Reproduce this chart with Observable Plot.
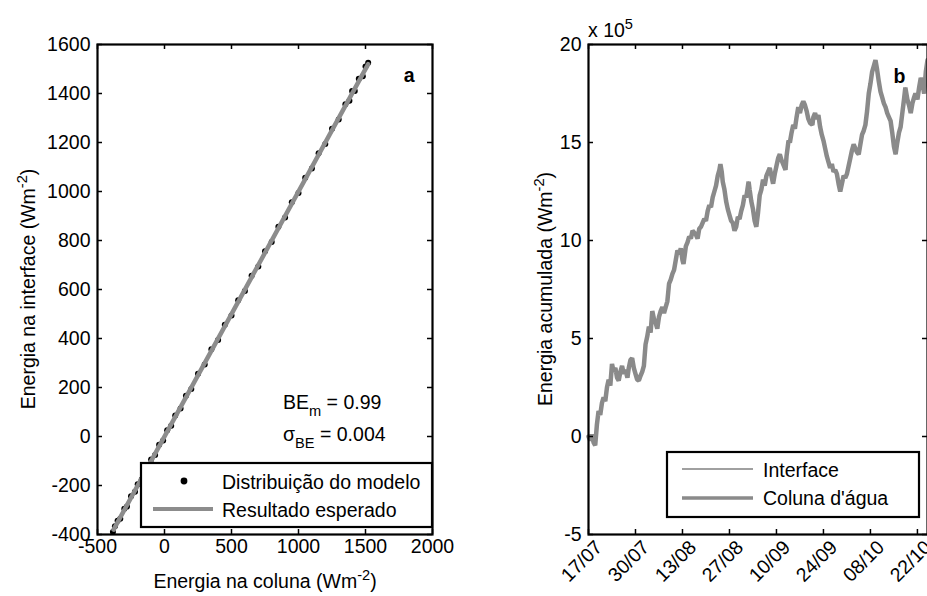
<!DOCTYPE html>
<html><head><meta charset="utf-8">
<script src="https://cdn.jsdelivr.net/npm/d3@7"></script>
<script src="https://cdn.jsdelivr.net/npm/@observablehq/plot@0.6"></script>
<style>
html,body{margin:0;padding:0;background:#fff;overflow:hidden;}
#wrap{position:relative;width:927px;height:596px;overflow:hidden;background:#fff;}
#wrap svg{position:absolute;top:0;}
</style></head><body><div id="wrap"></div>
<script>
const FONT = "'Liberation Sans', Arial, Helvetica, sans-serif";
const FS = 19.5;

// ---------- Panel a data ----------
const ticksXa = [-500, 0, 500, 1000, 1500, 2000];
const ticksYa = [-400, -200, 0, 200, 400, 600, 800, 1000, 1200, 1400, 1600];
const modeloX = [-385,-370,-350,-330,-300,-280,-250,-220,-200,-170,-150,-120,-100,-70,-40,-10,20,50,80,120,160,200,250,300,350,400,450,500,550,600,650,700,750,800,850,900,950,1000,1050,1100,1150,1200,1250,1300,1350,1380,1400,1420,1450,1480,1500,1520];
const modeloY = [-390,-366,-344,-336,-295,-286,-244,-226,-195,-176,-144,-126,-94,-76,-34,-16,26,44,86,114,166,194,256,294,356,394,456,494,556,594,656,694,756,794,856,894,956,994,1056,1094,1156,1194,1256,1294,1356,1370,1410,1410,1460,1470,1510,1526];
const esperadoX = [-380, 1520];
const esperadoY = [-380, 1520];

// ---------- Panel b data ----------
const tickDays = [0, 14, 28, 42, 56, 70, 84, 98];
const tickLabels = ["17/07","30/07","13/08","27/08","10/09","24/09","08/10","22/10"];
const ticksYb = [-5, 0, 5, 10, 15, 20];
const dias = [0,0.5,1,1.5,2,2.5,3,3.5,4,4.5,5,5.5,6,6.5,7,7.5,8,8.5,9,9.5,10,10.5,11,11.6,12,12.5,13,13.5,14,14.5,15,15.5,16,16.5,17,17.5,18,18.5,19,19.5,20,20.5,21,21.5,22,22.5,23,23.5,24,24.5,25,25.5,26,26.5,27,27.5,28,28.3,28.7,29,29.5,30,30.5,31,31.5,32,32.5,33,33.5,34,34.5,35,35.5,36,36.5,37,37.5,38,38.5,39,39.3,39.7,40,40.5,41,41.5,42,42.5,43,43.5,44,44.5,45,45.5,46,46.5,47,47.7,48,48.5,49,49.5,50,50.5,51,51.5,52,52.5,53,53.5,54,54.5,55,55.5,56,56.5,57,57.5,58,58.7,59,59.6,60,60.5,61,61.5,62,62.5,63,63.5,64,64.5,65,65.5,66,66.7,67,67.5,68,68.5,69,69.5,70,70.5,71,71.5,72,72.5,73,73.5,74,74.5,75,75.5,76,76.5,77,77.5,78,78.5,79,79.5,80,80.5,81,81.5,82,82.5,83,83.5,84,84.5,85,85.5,86,86.5,87,87.5,88,88.5,89,89.5,90,90.5,91,91.5,92,92.5,93,93.5,94,94.4,95,95.5,96,96.5,97,97.4,98,98.5,99,99.5,100,100.5,101];
const colunaAgua = [0.0,-0.2,0.1,-0.3,-0.45,0.6,1.3,1.1,1.7,2.0,1.8,2.5,2.9,2.6,3.7,3.3,3.5,3.0,2.85,3.3,3.6,3.2,3.4,3.0,3.5,3.9,4.0,3.5,3.2,2.9,2.85,3.1,3.3,3.6,4.7,5.1,5.6,5.3,6.4,6.0,5.8,5.5,6.1,6.4,6.6,6.3,6.6,6.9,7.8,8.0,8.3,8.5,9.0,9.5,9.3,9.6,9.0,8.8,9.3,9.7,9.9,10.2,10.1,10.5,10.4,10.3,10.1,10.6,10.7,10.9,11.1,11.0,11.5,11.8,11.7,12.2,12.5,12.8,13.3,13.6,13.9,13.5,13.0,12.6,12.0,11.6,11.3,11.0,10.9,10.5,10.7,11.2,11.1,11.5,11.8,12.3,12.2,13.0,12.6,12.0,11.6,11.0,10.7,11.4,12.3,12.6,13.1,12.8,13.3,13.5,13.7,13.3,12.9,13.4,13.8,14.2,14.4,14.1,13.9,13.6,14.3,15.1,15.0,15.5,15.9,15.7,16.3,16.8,16.5,16.9,17.1,16.9,16.6,16.2,16.0,15.9,16.3,16.5,16.2,16.4,15.8,15.4,15.1,14.7,14.3,14.0,13.7,13.9,13.5,13.6,13.4,12.9,12.5,12.9,13.3,13.2,13.4,13.8,14.2,14.6,14.9,14.7,14.5,14.4,14.9,15.4,15.6,15.9,16.6,17.5,18.0,18.6,18.9,19.2,18.7,18.1,17.6,17.3,17.0,16.8,16.5,16.3,16.1,15.5,14.8,14.4,15.0,15.5,15.8,16.5,17.2,17.8,17.2,16.9,16.5,17.0,17.3,17.5,17.2,17.8,18.3,18.0,17.5,18.6,19.2];
const interfaceVals = colunaAgua.slice(); // the two series coincide at this scale

const modelo = modeloX.map((x, i) => ({x, y: modeloY[i]}));
const esperado = esperadoX.map((x, i) => ({x, y: esperadoY[i]}));
const serieColuna = dias.map((d, i) => ({d, v: colunaAgua[i]}));
const serieInterface = dias.map((d, i) => ({d, v: interfaceVals[i]}));

const H = 596, MT = 44, MB = 62;
const wrap = document.getElementById("wrap");

// ---------- Panel a ----------
const WA = 470, MLA = 97, MRA = 38;
const fwA = WA - MLA - MRA, fh = H - MT - MB;
const plotA = Plot.plot({
  width: WA, height: H, marginLeft: MLA, marginRight: MRA, marginTop: MT, marginBottom: MB,
  x: {domain: [-500, 2000], axis: null},
  y: {domain: [-400, 1600], axis: null},
  style: {fontFamily: FONT, background: "transparent", overflow: "visible"},
  marks: [
    Plot.dot(modelo, {x: "x", y: "y", r: 3, fill: "black", stroke: "none"}),
    Plot.line(esperado, {x: "x", y: "y", stroke: "#8c8c8c", strokeWidth: 4.5, strokeLinecap: "round"}),
    Plot.ruleX(ticksXa, {x: d => d, insetTop: fh - 5, stroke: "black", strokeWidth: 1.5}),
    Plot.ruleX(ticksXa, {x: d => d, insetBottom: fh - 5, stroke: "black", strokeWidth: 1.5}),
    Plot.ruleY(ticksYa, {y: d => d, insetRight: fwA - 5, stroke: "black", strokeWidth: 1.5}),
    Plot.ruleY(ticksYa, {y: d => d, insetLeft: fwA - 5, stroke: "black", strokeWidth: 1.5}),
    Plot.text(ticksXa, {x: d => d, frameAnchor: "bottom", dy: 18, text: d => String(d), fontSize: FS, fill: "black"}),
    Plot.text(ticksYa, {y: d => d, frameAnchor: "left", dx: -7, textAnchor: "end", text: d => String(d), fontSize: FS, fill: "black"}),
    Plot.frame({stroke: "black", strokeWidth: 2.2}),
    Plot.text(["a"], {frameAnchor: "top-right", dx: -18, dy: 24, text: d => d, fontWeight: "bold", fontSize: FS, fill: "black"})
  ]
});
plotA.style.left = "0px";
wrap.appendChild(plotA);

// ---------- Panel b ----------
const XB = 470, WB = 470, MLB = 118, MRB = WB - (927 - XB);
const fwB = WB - MLB - MRB;
const plotB = Plot.plot({
  width: WB, height: H, marginLeft: MLB, marginRight: MRB, marginTop: MT, marginBottom: MB,
  x: {domain: [0, 101], axis: null},
  y: {domain: [-5, 20], axis: null},
  style: {fontFamily: FONT, background: "transparent", overflow: "visible"},
  marks: [
    Plot.line(serieInterface, {x: "d", y: "v", stroke: "#777", strokeWidth: 1}),
    Plot.line(serieColuna, {x: "d", y: "v", stroke: "#8a8a8a", strokeWidth: 4.5, strokeLinejoin: "miter"}),
    Plot.ruleX(tickDays, {x: d => d, insetTop: fh - 5, stroke: "black", strokeWidth: 1.5}),
    Plot.ruleX(tickDays, {x: d => d, insetBottom: fh - 5, stroke: "black", strokeWidth: 1.5}),
    Plot.ruleY(ticksYb, {y: d => d, insetRight: fwB - 5, stroke: "black", strokeWidth: 1.5}),
    Plot.ruleY(ticksYb, {y: d => d, insetLeft: fwB - 5, stroke: "black", strokeWidth: 1.5}),
    Plot.text(tickDays, {x: d => d, frameAnchor: "bottom", dx: 15, dy: 14, rotate: -45, textAnchor: "end", text: (d, i) => tickLabels[i], fontSize: FS, fill: "black"}),
    Plot.text(ticksYb, {y: d => d, frameAnchor: "left", dx: -7, textAnchor: "end", text: d => String(d), fontSize: FS, fill: "black"}),
    Plot.frame({stroke: "black", strokeWidth: 2.2}),
    Plot.text(["b"], {frameAnchor: "top-right", dx: -22, dy: 25, text: d => d, fontWeight: "bold", fontSize: FS, fill: "black"})
  ]
});
plotB.style.left = XB + "px";
wrap.appendChild(plotB);

// ---------- rich text helper (super/subscripts) ----------
function rich(svg, {x, y, rotate = 0, anchor = "start", size = FS}, segs) {
  const t = d3.select(svg).append("text")
    .attr("transform", `translate(${x},${y}) rotate(${rotate})`)
    .attr("text-anchor", anchor).attr("font-size", size)
    .attr("font-family", FONT).attr("fill", "black");
  let cur = 0;
  for (const [s, shift] of segs) {
    const off = shift === -1 ? -8.5 : shift === 1 ? 7 : 0;
    t.append("tspan").attr("dy", off - cur).attr("font-size", shift ? size * 0.75 : size).text(s);
    cur = off;
  }
  return t;
}
function legendBox(svg, x, y, w, h) {
  d3.select(svg).append("rect").attr("x", x).attr("y", y).attr("width", w).attr("height", h)
    .attr("fill", "white").attr("stroke", "black").attr("stroke-width", 2.2);
}

// Panel a texts
rich(plotA, {x: 265, y: 588, anchor: "middle"}, [["Energia na coluna (Wm", 0], ["-2", -1], [")", 0]]);
rich(plotA, {x: 35, y: 289, rotate: -90, anchor: "middle"}, [["Energia na interface (Wm", 0], ["-2", -1], [")", 0]]);
rich(plotA, {x: 283, y: 409}, [["BE", 0], ["m", 1], [" = 0.99", 0]]);
rich(plotA, {x: 283, y: 441}, [["σ", 0], ["BE", 1], [" = 0.004", 0]]);
legendBox(plotA, 141, 463, 291, 64);
d3.select(plotA).append("circle").attr("cx", 184).attr("cy", 481).attr("r", 3.4).attr("fill", "black");
rich(plotA, {x: 222, y: 489}, [["Distribuição do modelo", 0]]);
d3.select(plotA).append("line").attr("x1", 153).attr("x2", 213).attr("y1", 509).attr("y2", 509)
  .attr("stroke", "#8c8c8c").attr("stroke-width", 4);
rich(plotA, {x: 222, y: 517}, [["Resultado esperado", 0]]);

// Panel b texts (coordinates relative to panel b svg)
const ox = XB;
rich(plotB, {x: 545 - ox + 7, y: 289, rotate: -90, anchor: "middle"}, [["Energia acumulada (Wm", 0], ["-2", -1], [")", 0]]);
rich(plotB, {x: 588 - ox, y: 37}, [["x 10", 0], ["5", -1]]);
legendBox(plotB, 667 - ox, 452, 252, 65);
d3.select(plotB).append("line").attr("x1", 682 - ox).attr("x2", 753 - ox).attr("y1", 469).attr("y2", 469)
  .attr("stroke", "#808080").attr("stroke-width", 1.5);
rich(plotB, {x: 763 - ox, y: 477}, [["Interface", 0]]);
d3.select(plotB).append("line").attr("x1", 682 - ox).attr("x2", 753 - ox).attr("y1", 498).attr("y2", 498)
  .attr("stroke", "#8a8a8a").attr("stroke-width", 3.5);
rich(plotB, {x: 763 - ox, y: 505}, [["Coluna d'água", 0]]);
</script>
</body></html>
